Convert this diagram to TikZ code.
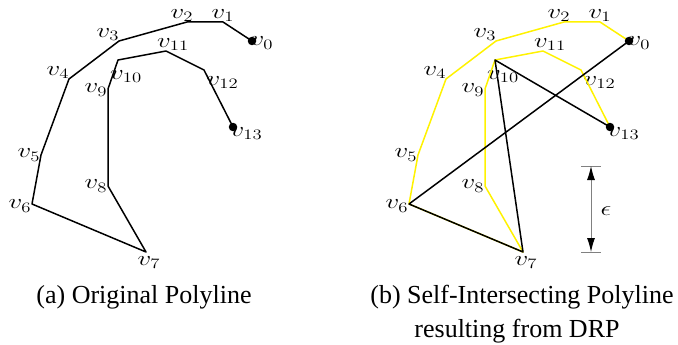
\documentclass[tikz,border=0pt]{standalone}
\usepackage{graphicx}
\usepackage{fontspec}
\newfontfamily\capfont{Liberation Serif}
\usetikzlibrary{arrows.meta,positioning}
\newcommand{\vlab}[1]{\scalebox{1.3}[1]{$v_{#1}$}}

\begin{document}
\begin{tikzpicture}[
    x=1pt, y=-1pt,
    vlbl/.style={font=\fontsize{20}{22}\selectfont, inner sep=0.5pt},
    orig/.style={line width=1.5pt, draw=black, line join=round},
    simp/.style={line width=1.5pt, draw=yellow, line join=round},
    endpt/.style={circle, fill=black, inner sep=0pt, minimum size=8.5pt},
    capt/.style={font=\capfont\fontsize{26}{32}\selectfont, anchor=base, inner sep=0pt},
    epsbar/.style={draw=gray, line width=1pt, {Latex[black,length=14pt,width=8pt]}-{Latex[black,length=14pt,width=8pt]}}
]
    \useasboundingbox (0,0) rectangle (678,345);

    % vertices: index / x / y / label position / label shift
    \foreach \i/\x/\y/\p/\dx/\dy in {0/252/41/right/-2/-2,1/223/22/above/0/0,2/187/22/above/-5/0,
        3/119/41/above left/1/0,4/69/79/above left/1/0,5/41/155/left/0/0,6/32/204/left/0/-2,
        7/146/252/below/3/-4,8/108/186/left/0/0,9/108/89/left/0/-1,
        10/118/60/below/8/-10,11/166/51/above/7/0,
        12/204/70/below right/2/-6,13/233/127/below right/-3/0} {
        \coordinate [label={[vlbl,xshift=\dx pt,yshift=\dy pt]\p:\vlab{\i}}] (a\i) at (\x,\y);
        \coordinate [label={[vlbl,xshift=\dx pt,yshift=\dy pt]\p:\vlab{\i}}] (b\i) at (\x+377,\y);
    }

    % (a) original polyline
    \draw [orig] (a0) -- (a1) -- (a2) -- (a3) -- (a4) -- (a5) -- (a6) -- (a7)
        -- (a8) -- (a9) -- (a10) -- (a11) -- (a12) -- (a13);
    \node [endpt] (a0dot) at (a0) {};
    \node [endpt] (a13dot) at (a13) {};

    % (b) original in yellow, DRP result in black
    \draw [simp] (b0) -- (b1) -- (b2) -- (b3) -- (b4) -- (b5) -- (b6) -- (b7)
        -- (b8) -- (b9) -- (b10) -- (b11) -- (b12) -- (b13);
    \draw [orig] (b0) -- (b6) -- (b7) -- (b10) -- (b13);
    \node [endpt] (b0dot) at (b0) {};
    \node [endpt] (b13dot) at (b13) {};

    % tolerance bar
    \coordinate (et) at (591,166);
    \coordinate (eb) at (591,252);
    \draw [gray, line width=1pt] ([xshift=-10pt]et) -- ([xshift=10pt]et);
    \draw [gray, line width=1pt] ([xshift=-10pt]eb) -- ([xshift=10pt]eb);
    \draw [epsbar] (et) -- (eb);
    \node [vlbl] (eps) at (606,211) {\scalebox{1.3}[1]{$\epsilon$}};

    % captions
    \node [capt] (capa) at (144,303) {(a) Original Polyline};
    \node [capt] (capb) at (522,303) {(b) Self-Intersecting Polyline};
    \node [capt] (capb2) at (517,337) {resulting from DRP};
\end{tikzpicture}
\end{document}
